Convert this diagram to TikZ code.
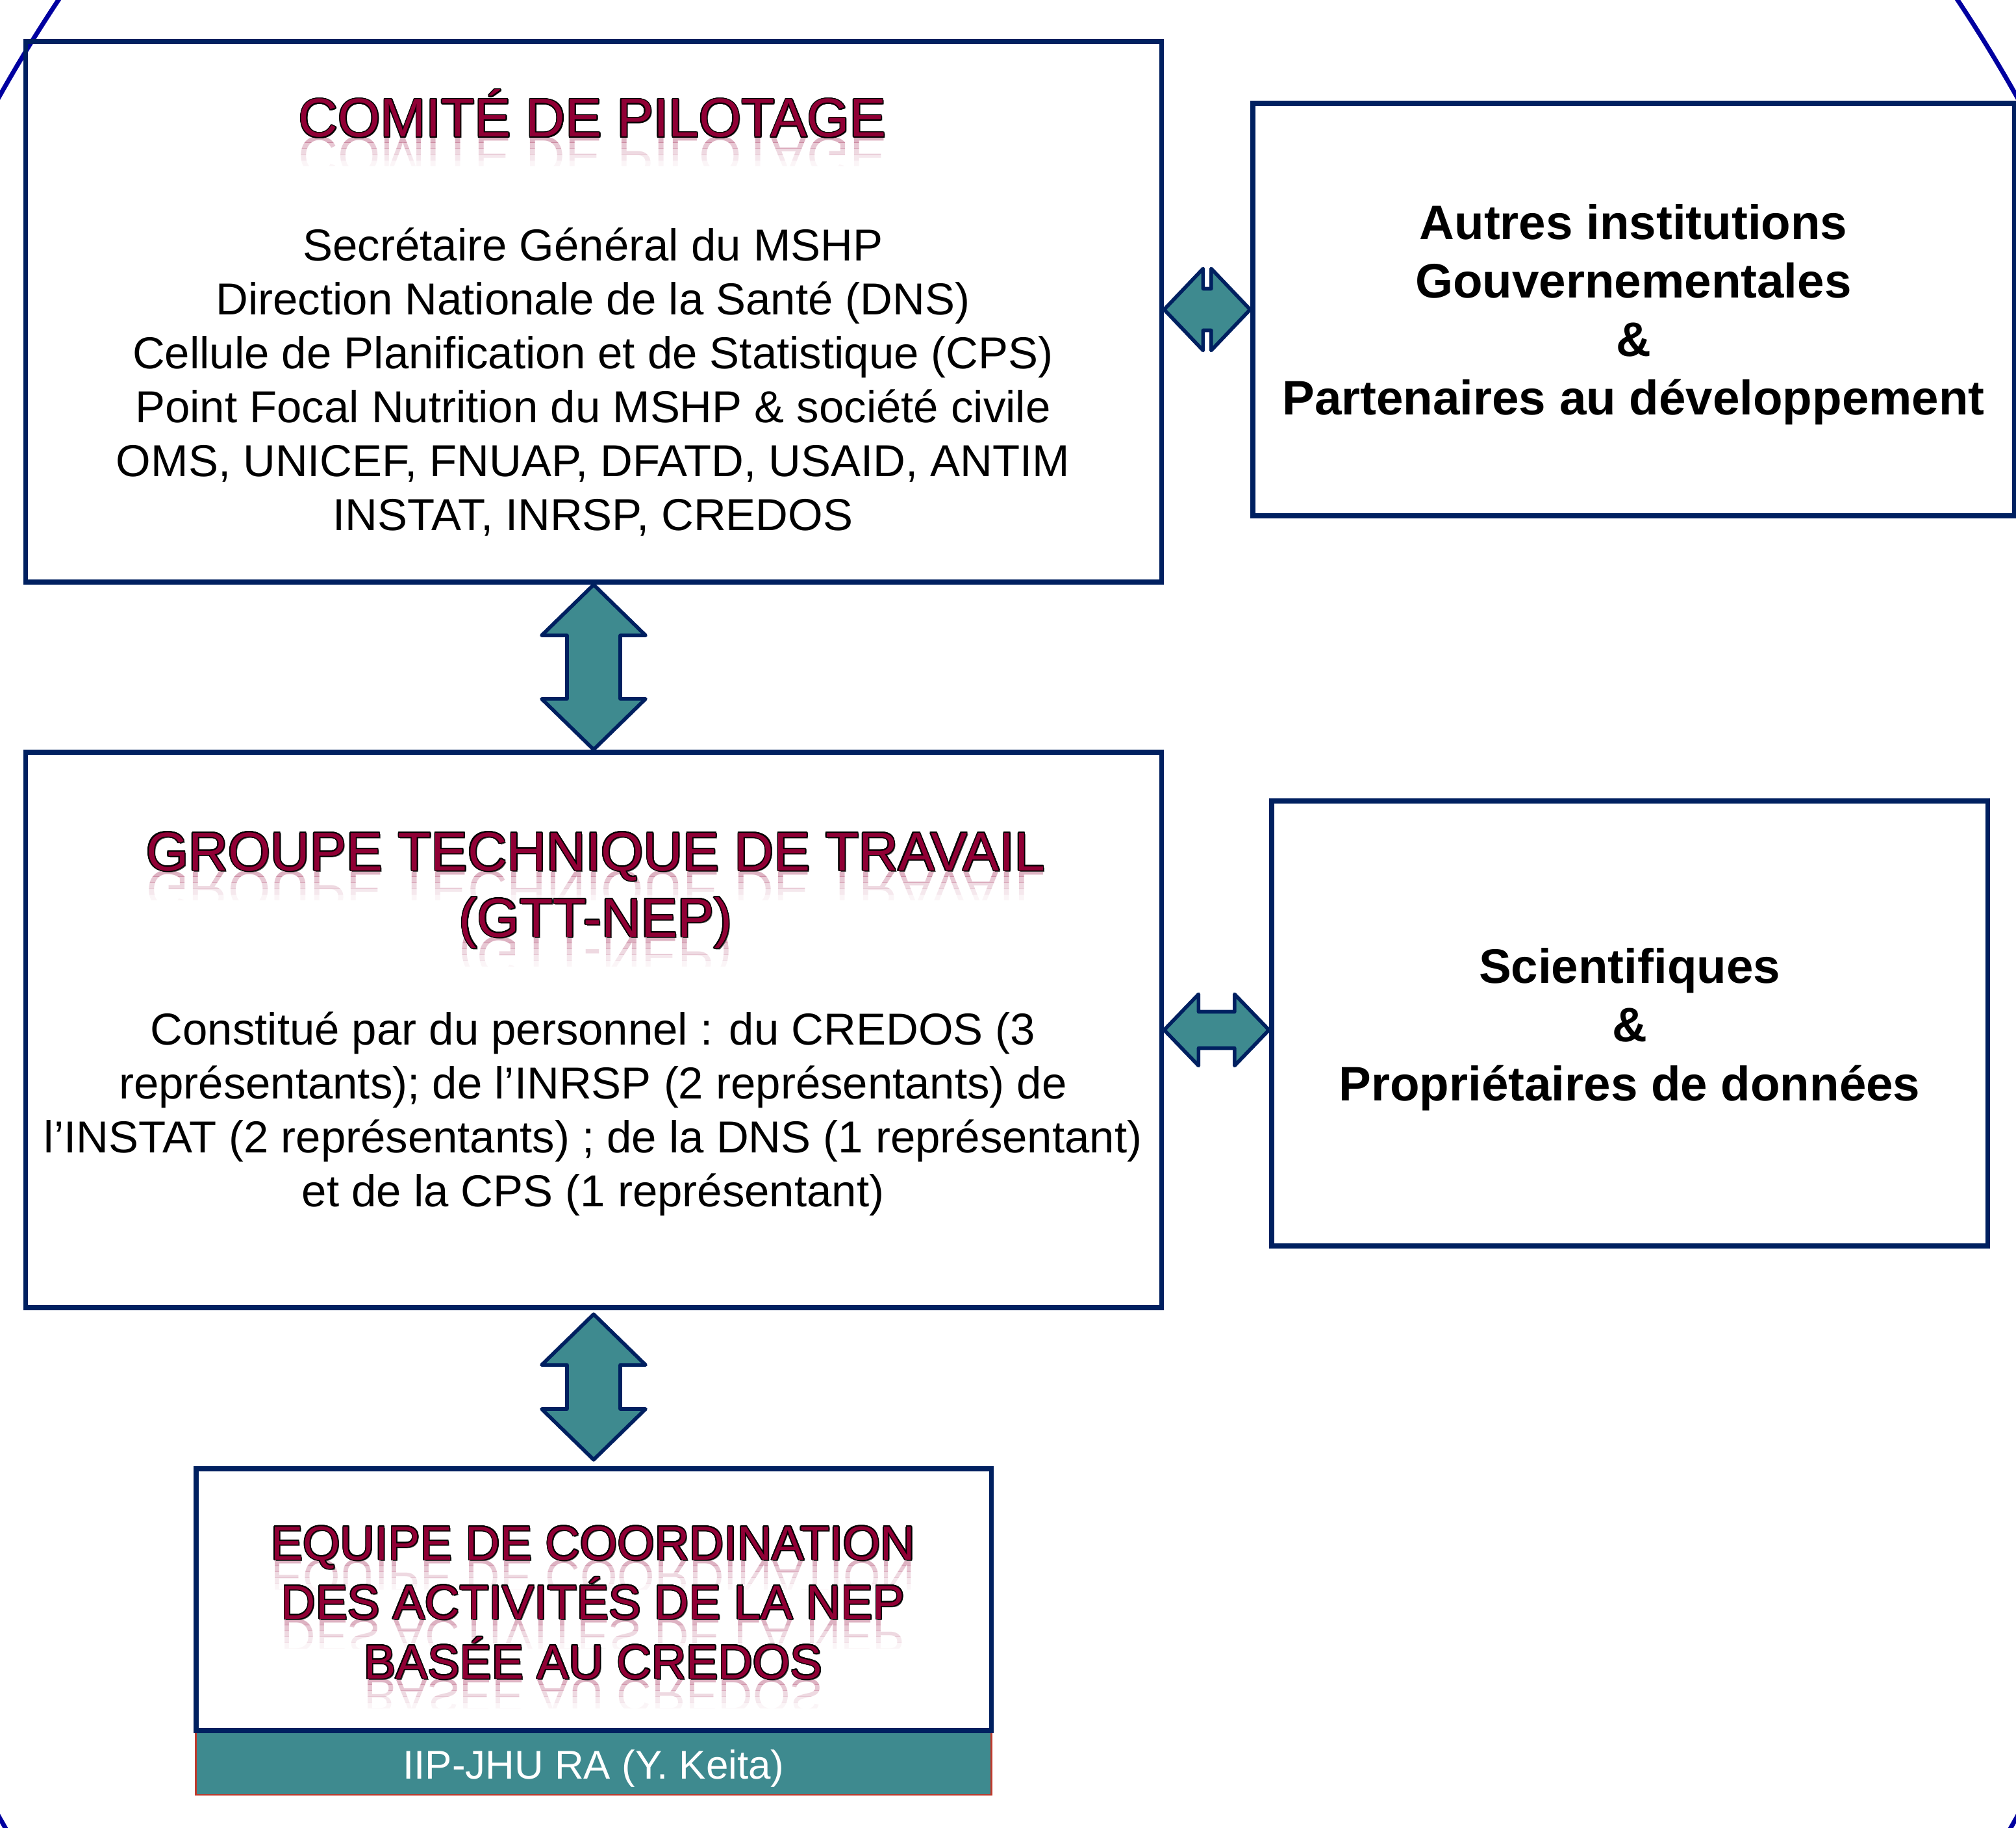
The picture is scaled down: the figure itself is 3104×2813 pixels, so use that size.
\documentclass[tikz,border=0pt]{standalone}
\usepackage{fontspec}
\setmainfont{Liberation Sans}
\usepackage{contour}
\usetikzlibrary{calc}
\definecolor{navy}{HTML}{002060}
\definecolor{tealfill}{HTML}{3E8A8F}
\definecolor{wine}{HTML}{900035}
\definecolor{ellblue}{HTML}{0000A0}
\definecolor{barred}{HTML}{C0392B}
\contourlength{0.45pt}
\contournumber{16}
\tikzset{
  box/.style={draw=navy, line width=2.2pt, rectangle, inner sep=0pt},
  blockarrow/.style={fill=tealfill, draw=navy, line width=1.6pt, line join=round},
  titlefont/.style={font=\fontsize{#1}{#1}\selectfont, inner sep=0pt, anchor=base},
  bodytext/.style={font=\fontsize{19.6pt}{23.6pt}\selectfont, align=center, inner sep=0pt, anchor=base},
  boldtext/.style={font=\bfseries\fontsize{21.2pt}{25.6pt}\selectfont, align=center, inner sep=0pt, anchor=base},
}
\newcommand{\titleline}[5]{% name, x, baseline y, size, text
  \foreach \i/\o in {0/0.30,1/0.22,2/0.15,3/0.09,4/0.04}{
    \begin{scope}
      \clip ($(#2,#3)+(-900,\i*9)$) rectangle ($(#2,#3)+(900,\i*9+9)$);
      \node[titlefont=#4, text=wine, opacity=\o, yscale=-1] (#1-r\i) at (#2,#3) {#5};
    \end{scope}}
  \node[titlefont=#4, text=black!75] (#1-s) at ($(#2,#3)+(2,2)$) {#5};
  \node[titlefont=#4, text=wine] (#1) at (#2,#3) {\contour{black}{#5}};
}
\newcommand{\hbiarrow}[5]{% left, right, headlen, headhalf, shafthalf
  \filldraw[blockarrow] (#1) -- ($(#1)+(#3,-#4)$) -- ($(#1)+(#3,-#5)$) -- ($(#2)+(-#3,-#5)$) -- ($(#2)+(-#3,-#4)$) -- (#2)
    -- ($(#2)+(-#3,#4)$) -- ($(#2)+(-#3,#5)$) -- ($(#1)+(#3,#5)$) -- ($(#1)+(#3,#4)$) -- cycle;}
\newcommand{\vbiarrow}[5]{% top, bottom, headlen, headhalf, shafthalf
  \filldraw[blockarrow] (#1) -- ($(#1)+(#4,#3)$) -- ($(#1)+(#5,#3)$) -- ($(#2)+(#5,-#3)$) -- ($(#2)+(#4,-#3)$) -- (#2)
    -- ($(#2)+(-#4,-#3)$) -- ($(#2)+(-#5,-#3)$) -- ($(#1)+(-#5,#3)$) -- ($(#1)+(-#4,#3)$) -- cycle;}
\begin{document}
\begin{tikzpicture}[x=0.01cm, y=-0.01cm]
\useasboundingbox (0,0) rectangle (3104,2813);
\begin{scope}
  \clip (0,0) rectangle (3104,2813);
  \draw[ellblue, line width=2pt] (1552,1473) ellipse [x radius=1889, y radius=2326];
\end{scope}

% boxes
\node[box, minimum width=17.48cm, minimum height=8.32cm] (cp) at (914,480) {};
\node[box, minimum width=11.72cm, minimum height=6.35cm] (au) at (2515,476.5) {};
\node[box, minimum width=17.48cm, minimum height=8.55cm] (gtt) at (914,1585.5) {};
\node[box, minimum width=11.02cm, minimum height=6.85cm] (sci) at (2509,1575.5) {};
\node[rectangle, fill=tealfill, draw=barred, line width=0.8pt, minimum width=12.24cm, minimum height=0.99cm, inner sep=0pt] (bar) at (914,2713.5) {};
\node[box, minimum width=12.24cm, minimum height=4.03cm] (eq) at (914,2462.5) {};

% texts (multi-line nodes: base = baseline of last line)
\titleline{cpt}{912}{211}{23.9pt}{COMITÉ DE PILOTAGE}
\node[bodytext] (cpbody) at (913,816) {Secrétaire Général du MSHP\\Direction Nationale de la Santé (DNS)\\Cellule de Planification et de Statistique (CPS)\\Point Focal Nutrition du MSHP \& société civile\\OMS, UNICEF, FNUAP, DFATD, USAID, ANTIM\\INSTAT, INRSP, CREDOS};
\node[boldtext] (autext) at (2515,639) {Autres institutions\\Gouvernementales\\\&\\Partenaires au développement};

\titleline{gtt1}{917}{1340}{23.9pt}{GROUPE TECHNIQUE DE TRAVAIL}
\titleline{gtt2}{917}{1442}{23.9pt}{(GTT-NEP)}
\node[bodytext] (gttbody) at (913,1857) {Constitué par du personnel : du CREDOS (3\\représentants); de l’INRSP (2 représentants) de\\l’INSTAT (2 représentants) ; de la DNS (1 représentant)\\et de la CPS (1 représentant)};
\node[boldtext] (scitext) at (2509,1694) {Scientifiques\\\&\\Propriétaires de données};

\titleline{eq1}{913}{2401}{21pt}{EQUIPE DE COORDINATION}
\titleline{eq2}{913}{2492}{21pt}{DES ACTIVITÉS DE LA NEP}
\titleline{eq3}{913}{2584}{21pt}{BASÉE AU CREDOS}
\node[font=\fontsize{17.6pt}{20pt}\selectfont, text=white, inner sep=0pt, anchor=base] (bartext) at (914,2738) {IIP-JHU RA (Y. Keita)};

% connectors
\coordinate (h1l) at (cp.east |- au.west);
\hbiarrow{h1l}{au.west}{60}{63}{32}
\coordinate (h2r) at (gtt.east -| sci.west);
\hbiarrow{gtt.east}{h2r}{53}{55}{28}
\vbiarrow{cp.south}{gtt.north}{78}{80}{41}
\coordinate (v2t) at ($(gtt.south)+(0,6)$);
\coordinate (v2b) at ($(eq.north)+(0,-10)$);
\vbiarrow{v2t}{v2b}{78}{80}{41}
\end{tikzpicture}
\end{document}
